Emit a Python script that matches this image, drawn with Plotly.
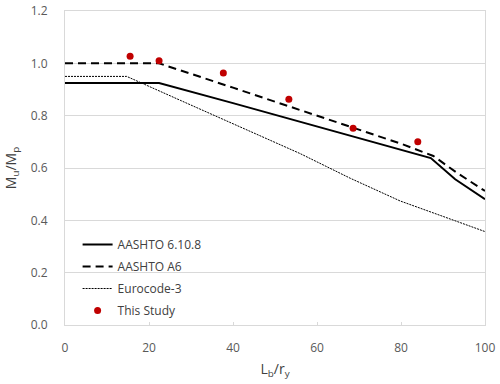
import plotly.graph_objects as go

# AASHTO 6.10.8 (solid)
aashto_x = [0, 22.4, 40, 60, 80, 87.1, 92.9, 100]
aashto_y = [0.925, 0.925, 0.848, 0.760, 0.672, 0.638, 0.557, 0.481]

# AASHTO A6 (dashed)
a6_x = [0, 22.4, 40, 60, 80, 87.7, 93.2, 100]
a6_y = [1.0, 1.0, 0.907, 0.800, 0.693, 0.646, 0.583, 0.512]

# Eurocode-3 (fine dotted)
ec3_x = [0, 14.7, 27.4, 44, 56, 67.9, 79.8, 90, 100]
ec3_y = [0.95, 0.95, 0.859, 0.740, 0.655, 0.561, 0.474, 0.415, 0.357]

# This Study (points)
study_x = [15.5, 22.4, 37.7, 53.3, 68.6, 84.0]
study_y = [1.027, 1.010, 0.963, 0.863, 0.752, 0.700]

x_ticks = [0, 20, 40, 60, 80, 100]
y_ticks = [0.0, 0.2, 0.4, 0.6, 0.8, 1.0, 1.2]

FONT = "Open Sans"
TICK_COLOR = "#595959"
GRID = "#d9d9d9"

fig = go.Figure()
fig.add_trace(go.Scatter(x=aashto_x, y=aashto_y, mode="lines", name="AASHTO 6.10.8",
                         legendgroup="g1", line=dict(color="black", width=2)))
fig.add_trace(go.Scatter(x=a6_x, y=a6_y, mode="lines", name="AASHTO A6",
                         legendgroup="g2", line=dict(color="black", width=2, dash="8px,5px")))
fig.add_trace(go.Scatter(x=ec3_x, y=ec3_y, mode="lines", name="Eurocode-3",
                         legendgroup="g3", line=dict(color="black", width=1, dash="2px,1px")))
fig.add_trace(go.Scatter(x=study_x, y=study_y, mode="markers", name="This Study",
                         legendgroup="g4", marker=dict(color="#c00000", size=7)))

fig.update_layout(
    width=500, height=384,
    margin=dict(l=65, r=15, t=10.5, b=58.5),
    paper_bgcolor="white", plot_bgcolor="white",
    font=dict(family=FONT, size=12, color=TICK_COLOR),
    showlegend=True,
    legend=dict(x=0.03, y=0.0, xanchor="left", yanchor="bottom",
                bgcolor="rgba(0,0,0,0)", tracegroupgap=3,
                font=dict(family=FONT, size=12, color="#404040")),
    xaxis=dict(range=[0, 100], tickvals=x_ticks, ticktext=[str(v) for v in x_ticks],
               automargin=False, ticklabeloverflow="allow",
               showgrid=False, showline=True, linecolor=GRID, linewidth=1, mirror=True,
               ticks="inside", ticklen=3, tickcolor=GRID, ticklabelstandoff=12,
               zeroline=False,
               title=dict(text="L<sub>b</sub>/r<sub>y</sub>", standoff=8,
                          font=dict(family=FONT, size=14, color="#404040"))),
    yaxis=dict(range=[0, 1.2], tickvals=y_ticks, ticktext=[f"{v:.1f}" for v in y_ticks],
               automargin=False, ticklabeloverflow="allow",
               showgrid=True, gridcolor=GRID, gridwidth=1,
               showline=True, linecolor=GRID, linewidth=1, mirror=True,
               ticks="", ticklabelstandoff=14, zeroline=False,
               title=dict(text="M<sub>u</sub>/M<sub>p</sub>", standoff=10,
                          font=dict(family=FONT, size=14, color="#404040"))),
)

fig.write_html("out.html", config={"displayModeBar": False},
               post_script="document.body.style.margin='0px';document.body.style.overflow='hidden';")
